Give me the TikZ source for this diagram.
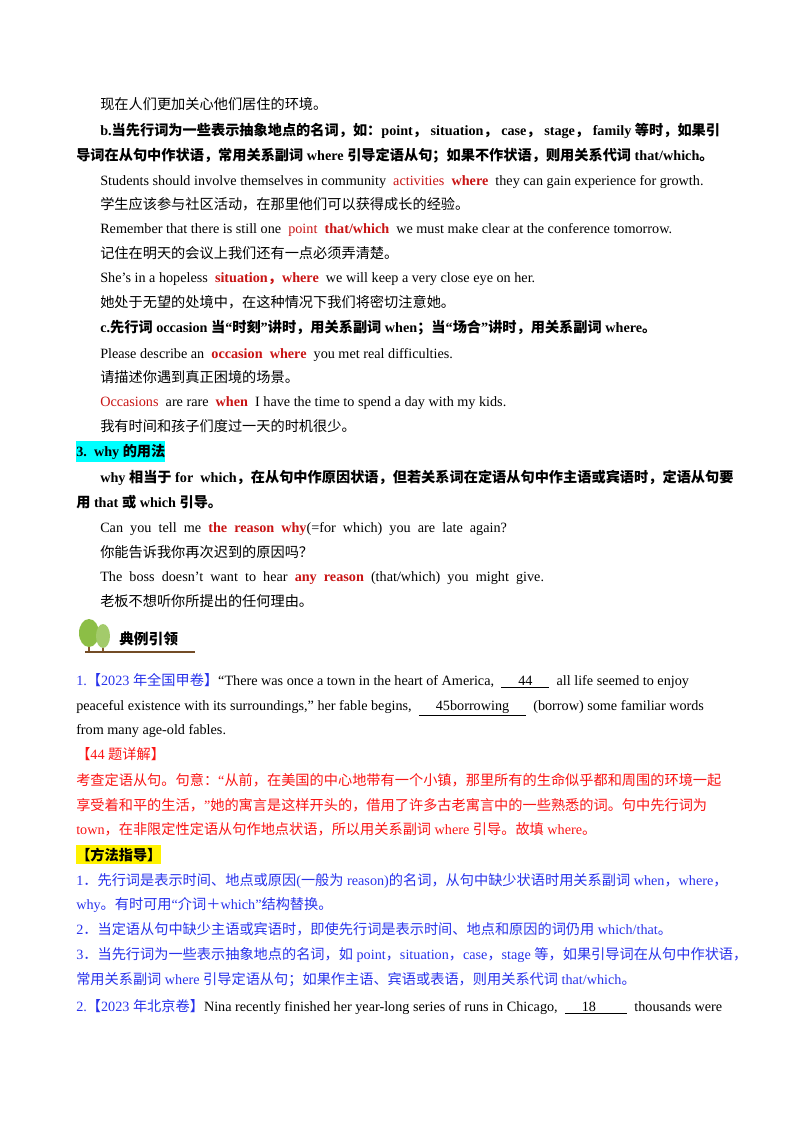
\documentclass[tikz,border=0pt]{standalone}
\usepackage{fontspec}
\setmainfont{Liberation Serif}
\newfontfamily\cjk{Noto Sans CJK SC}
\usepackage{tikz}
% CJK characters switch to the CJK font by themselves
\XeTeXinterchartokenstate=1
\newXeTeXintercharclass\zhclass
\count255="3000
\loop\XeTeXcharclass\count255=\zhclass
  \ifnum\count255<"303F\advance\count255 by 1\repeat
\count255="4E00
\loop\XeTeXcharclass\count255=\zhclass
  \ifnum\count255<"9FFF\advance\count255 by 1\repeat
\count255="FF00
\loop\XeTeXcharclass\count255=\zhclass
  \ifnum\count255<"FFEF\advance\count255 by 1\repeat
\XeTeXinterchartoks 0 \zhclass {\cjk}
\XeTeXinterchartoks 4095 \zhclass {\cjk}
\XeTeXinterchartoks \zhclass 0 {\rmfamily}
\XeTeXinterchartoks \zhclass 4095 {\rmfamily}
\definecolor{exred}{RGB}{200,20,20}
\definecolor{keyred}{RGB}{250,20,20}
\definecolor{guideblue}{RGB}{40,50,235}
\definecolor{leafgreen}{RGB}{140,190,70}
\definecolor{hlcyan}{RGB}{0,255,255}
\newcommand{\hi}[1]{\textcolor{exred}{\textbf{#1}}}
\newcommand{\blank}[1]{\underline{\hspace{1.2em}#1\hspace{1.2em}}}
\begin{document}
\begin{tikzpicture}[x=0.02625cm, y=-0.02625cm,
    line/.style={anchor=base west, inner sep=0pt, font=\fontsize{10.6}{12}\selectfont},
    head/.style={line, font=\fontsize{10.6}{12}\selectfont\bfseries}]
\useasboundingbox (0,0) rectangle (800,1132);

\node[line] (p1) at (100,109) {现在人们更加关心他们居住的环境。};
\node[head] (b1) at (100,135) {b.当先行词为一些表示抽象地点的名词，如：point，\ situation，\ case，\ stage，\ family 等时，如果引};
\node[head] (b2) at (76,160) {导词在从句中作状语，常用关系副词 where 引导定语从句；如果不作状语，则用关系代词 that/which。};
\node[line] (e1) at (100,185) {Students should involve themselves in community \ \textcolor{exred}{activities} \ \hi{where} \ they can gain experience for growth.};
\node[line] (z1) at (100,209) {学生应该参与社区活动，在那里他们可以获得成长的经验。};
\node[line] (e2) at (100,233) {Remember that there is still one \ \textcolor{exred}{point} \ \hi{that/which} \ we must make clear at the conference tomorrow.};
\node[line] (z2) at (100,258) {记住在明天的会议上我们还有一点必须弄清楚。};
\node[line] (e3) at (100,282) {She's in a hopeless \ \hi{situation，where} \ we will keep a very close eye on her.};
\node[line] (z3) at (100,307) {她处于无望的处境中，在这种情况下我们将密切注意她。};
\node[head] (c1) at (100,332) {c.先行词 occasion 当“时刻”讲时，用关系副词 when；当“场合”讲时，用关系副词 where。};
\node[line] (e4) at (100,358) {Please describe an \ \hi{occasion} \ \hi{where} \ you met real difficulties.};
\node[line] (z4) at (100,382) {请描述你遇到真正困境的场景。};
\node[line] (e5) at (100,406) {\textcolor{exred}{Occasions} \ are rare \ \hi{when} \ I have the time to spend a day with my kids.};
\node[line] (z5) at (100,431) {我有时间和孩子们度过一天的时机很少。};

\node[head, fill=hlcyan, inner ysep=2pt, inner xsep=0pt] (s3) at (76,456) {3.\ \ why 的用法};
\node[head] (w1) at (100,482) {why 相当于 for\ \ which，在从句中作原因状语，但若关系词在定语从句中作主语或宾语时，定语从句要};
\node[head] (w2) at (76,507) {用 that 或 which 引导。};
\node[line] (e6) at (100,532) {Can\ \ you\ \ tell\ \ me\ \ \hi{the\ \ reason\ \ why}(=for\ \ which)\ \ you\ \ are\ \ late\ \ again?};
\node[line] (z6) at (100,557) {你能告诉我你再次迟到的原因吗？};
\node[line] (e7) at (100,581) {The\ \ boss\ \ doesn’t\ \ want\ \ to\ \ hear\ \ \hi{any\ \ reason}\ \ (that/which)\ \ you\ \ might\ \ give.};
\node[line] (z7) at (100,606) {老板不想听你所提出的任何理由。};

% tree icon
\fill[brown!70!black] (88,630) rectangle (90,652);
\fill[brown!70!black] (102,634) rectangle (104,652);
\fill[leafgreen] (89,633) ellipse (10 and 14);
\fill[leafgreen!80!white] (103,636) ellipse (7 and 12);
\draw[brown!60!black, line width=0.8pt] (85,652) -- (195,652);
\node[head, anchor=base west, font=\fontsize{11}{12}\selectfont\bfseries] (ex) at (119,644) {典例引领};

\node[line] (q1) at (76,685) {\textcolor{guideblue}{1.【2023 年全国甲卷】}“There was once a town in the heart of America, \ \blank{44} \ all life seemed to enjoy};
\node[line] (q2) at (76,710) {peaceful existence with its surroundings,” her fable begins, \ \blank{45borrowing} \ (borrow) some familiar words};
\node[line] (q3) at (76,734) {from many age-old fables.};
\node[line, text=keyred] (k0) at (76,759) {【44 题详解】};
\node[line, text=keyred] (k1) at (76,785) {考查定语从句。句意：“从前，在美国的中心地带有一个小镇，那里所有的生命似乎都和周围的环境一起};
\node[line, text=keyred] (k2) at (76,810) {享受着和平的生活，”她的寓言是这样开头的，借用了许多古老寓言中的一些熟悉的词。句中先行词为};
\node[line, text=keyred] (k3) at (76,834) {town，在非限定性定语从句作地点状语，所以用关系副词 where 引导。故填 where。};
\node[head, fill=yellow, inner ysep=2pt] (g0) at (76,860) {【方法指导】};
\node[line, text=guideblue] (g1) at (76,885) {1．先行词是表示时间、地点或原因(一般为 reason)的名词，从句中缺少状语时用关系副词 when，where，};
\node[line, text=guideblue] (g2) at (76,909) {why。有时可用“介词＋which”结构替换。};
\node[line, text=guideblue] (g3) at (76,934) {2．当定语从句中缺少主语或宾语时，即使先行词是表示时间、地点和原因的词仍用 which/that。};
\node[line, text=guideblue] (g4) at (76,959) {3．当先行词为一些表示抽象地点的名词，如 point，situation，case，stage 等，如果引导词在从句中作状语，};
\node[line, text=guideblue] (g5) at (76,984) {常用关系副词 where 引导定语从句；如果作主语、宾语或表语，则用关系代词 that/which。};
\node[line] (q4) at (76,1011) {\textcolor{guideblue}{2.【2023 年北京卷】}Nina recently finished her year-long series of runs in Chicago, \ \blank{18\hspace{1em}} \ thousands were};
\end{tikzpicture}
\end{document}
